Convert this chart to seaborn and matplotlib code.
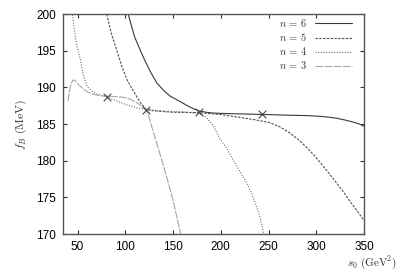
import numpy as np
import pandas as pd
import matplotlib
matplotlib.use("Agg")
import matplotlib.pyplot as plt
import seaborn as sns

# values (s0 in GeV^2, fB in MeV)
s0_n3 = [40, 41.5, 43, 45, 46, 48, 50, 55, 60, 65, 70, 75, 81, 90, 98, 105, 112, 117, 122, 125, 128, 132, 135, 140, 145, 150, 154, 158]
fb_n3 = [188.1, 189.4, 190.4, 190.95, 191.0, 190.85, 190.5, 189.9, 189.4, 189.1, 188.95, 188.85, 188.8, 188.75, 188.65, 188.4, 187.9, 187.5, 187.0, 185.9, 184.5, 182.8, 181.5, 179.3, 177.0, 174.6, 172.3, 170.0]

s0_n4 = [44, 46, 48, 50, 53, 56, 60, 65, 70, 75, 81, 90, 102, 112, 122, 135, 150, 165, 177, 185, 192, 199, 206, 213, 220, 227, 232, 237, 241, 245]
fb_n4 = [201.0, 198.6, 196.6, 195.3, 193.8, 191.7, 190.1, 189.5, 189.1, 188.9, 188.7, 188.2, 187.6, 187.2, 187.0, 186.8, 186.7, 186.6, 186.45, 185.9, 184.8, 183.0, 181.7, 180.1, 178.5, 177.0, 175.6, 173.9, 172.3, 170.0]

s0_n5 = [80, 83, 86, 91, 96, 102, 108, 116, 122, 130, 140, 150, 160, 177, 190, 200, 210, 220, 235, 251, 262, 272, 280, 286, 293, 300, 310, 321, 328, 335, 342, 349]
fb_n5 = [200.5, 198.6, 197.1, 195.1, 193.0, 191.0, 189.6, 187.9, 187.0, 186.8, 186.7, 186.6, 186.6, 186.55, 186.4, 186.3, 186.1, 185.9, 185.6, 185.2, 184.6, 183.8, 183.0, 182.3, 181.4, 180.4, 178.8, 177.0, 175.8, 174.5, 173.3, 172.0]

s0_n6 = [102, 106, 110, 115.6, 120, 126, 133, 140, 147, 155.6, 165, 172, 178, 185, 192, 200, 215, 230, 243, 260, 272, 290, 304, 312, 321, 330, 339, 345, 350]
fb_n6 = [200.5, 198.6, 196.8, 195.1, 193.8, 192.2, 190.6, 189.6, 188.8, 188.2, 187.5, 187.05, 186.75, 186.6, 186.5, 186.45, 186.4, 186.35, 186.3, 186.25, 186.2, 186.15, 186.05, 185.95, 185.8, 185.55, 185.25, 185.0, 184.7]

# minimum-sensitivity points (crosses)
s0_cross = [80.5, 122, 177.5, 243]
fb_cross = [188.75, 186.95, 186.6, 186.3]

n_labels = ["n = 6", "n = 5", "n = 4", "n = 3"]

frames = []
for lab, xs, ys in [("n = 3", s0_n3, fb_n3), ("n = 4", s0_n4, fb_n4),
                    ("n = 5", s0_n5, fb_n5), ("n = 6", s0_n6, fb_n6)]:
    frames.append(pd.DataFrame({"s0": xs, "fB": ys, "n": lab}))
df = pd.concat(frames, ignore_index=True)

sns.set_style("ticks")
plt.rcParams["font.family"] = ["Liberation Sans", "DejaVu Sans"]
plt.rcParams["mathtext.fontset"] = "cm"

fig = plt.figure(figsize=(4.05, 2.75), dpi=100)
ax = fig.add_axes([0.156, 0.149, 0.743, 0.80])

palette = {"n = 6": "#3a3a3a", "n = 5": "#505050", "n = 4": "#606060", "n = 3": "#a5a5a5"}
dashes = {"n = 6": "", "n = 5": (2.2, 1.2), "n = 4": (0.9, 1.5), "n = 3": (7, 1.2)}

sns.lineplot(data=df, x="s0", y="fB", hue="n", style="n", palette=palette,
             dashes=dashes, hue_order=n_labels, style_order=n_labels,
             sort=False, estimator=None, linewidth=0.8, ax=ax, legend=True)

sns.scatterplot(x=s0_cross, y=fb_cross, marker="x", s=30, color="#444444",
                linewidth=0.8, ax=ax, legend=False, zorder=5)

ax.set_xlim(35, 350)
ax.set_ylim(170, 200)
ax.set_xticks(np.arange(50, 351, 50))
ax.set_yticks(np.arange(170, 201, 5))
ax.tick_params(direction="in", top=True, right=True, length=3, width=0.8,
               labelsize=8.5, colors="#333333", labelcolor="black", pad=5)
for sp in ax.spines.values():
    sp.set_color("#555555")
    sp.set_linewidth(1.0)

ax.set_xlabel("")
ax.set_ylabel(r"$f_B\ (\mathrm{MeV})$", fontsize=8.5, color="#333333", labelpad=5)
fig.text(0.98, 0.047, r"$s_0\ (\mathrm{GeV}^2)$", fontsize=8,
         ha="right", va="center", color="#333333")

handles, labels = ax.get_legend_handles_labels()
order = [labels.index(l) for l in n_labels]
leg = ax.legend([handles[i] for i in order], [r"$n\,=\,6$", r"$n\,=\,5$", r"$n\,=\,4$", r"$n\,=\,3$"],
                loc="upper right", bbox_to_anchor=(0.975, 1.005), markerfirst=False,
                frameon=False, fontsize=7.5, handlelength=3.6, handletextpad=0.8,
                labelspacing=0.2, borderaxespad=0.0)
for t in leg.get_texts():
    t.set_color("#333333")

fig.savefig("out.png", dpi=100, facecolor="white")
